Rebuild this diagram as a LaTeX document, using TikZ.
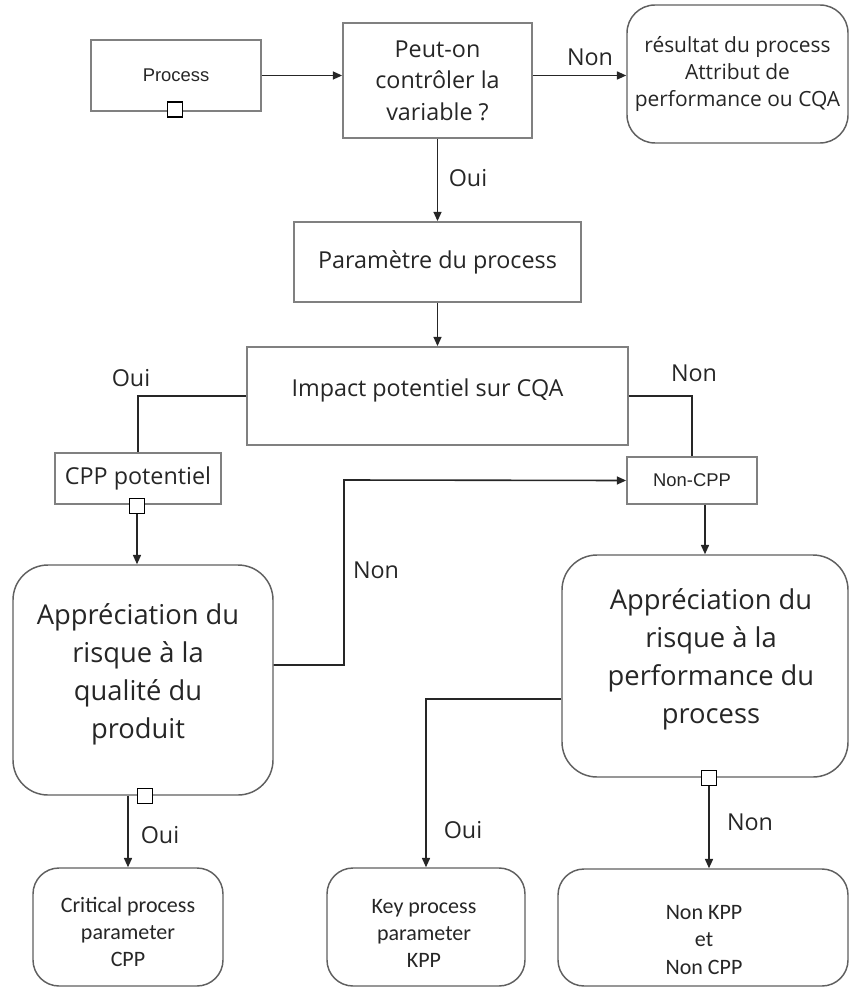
\documentclass[tikz,border=0pt]{standalone}
\usepackage{fontspec}
\setmainfont{Open Sans}
\newfontfamily\arialf{Liberation Sans}
\newfontfamily\calf{Carlito}
\usetikzlibrary{arrows.meta}
\definecolor{txt}{HTML}{262626}
\definecolor{edge}{HTML}{808080}
\definecolor{redge}{HTML}{606060}
\definecolor{wire}{HTML}{262626}
\begin{document}
\begin{tikzpicture}[x=0.75pt,y=-0.75pt,
  sz/.style 2 args={minimum width=#1*0.75pt, minimum height=#2*0.75pt},
  box/.style={draw=edge, line width=1.3pt, fill=white, inner sep=0pt,
    align=center, text=txt},
  rbox/.style={box, draw=redge, line width=1.1pt, rounded corners=#1*0.75pt},
  rbox/.default=26,
  inner/.style={text=txt, align=center, inner sep=0pt},
  mid/.style={font=\fontsize{17.5}{23.6}\selectfont},
  big/.style={font=\fontsize{20.5}{28.5}\selectfont},
  small/.style={font=\fontsize{15.7}{20.6}\selectfont},
  narrow/.style={font=\calf\fontsize{16.5}{20.3}\selectfont},
  plain/.style={font=\arialf\fontsize{13.8}{16}\selectfont},
  port/.style={draw=black, line width=0.9pt, fill=white, inner sep=0pt, sz={15}{15}},
  conn/.style={draw=wire, line width=1.2pt},
  arr/.style={conn, -{Triangle[length=7pt,width=6pt]}},
  lbl/.style={text=txt, inner sep=0pt, font=\fontsize{17.5}{20}\selectfont}
]
\useasboundingbox (0,0) rectangle (849,987);

% boxes
\node[box, plain, sz={170}{71}] (proc) at (176,75.5) {Process};
\node[box, mid, sz={189}{115}] (q) at (437.5,80.5) {Peut-on\\contrôler la\\variable ?};
\node[rbox=28, small, sz={221}{138}] (res) at (737.5,74) {résultat du process\\Attribut de\\performance ou CQA};
\node[box, mid, sz={287}{80}] (param) at (437.5,262) {Paramètre du process};
\node[box, sz={381}{98}] (impact) at (437.5,396) {};
\node[inner, mid] (impact-t) at (427.5,390) {Impact potentiel sur CQA};
\node[box, mid, sz={166}{51}] (cpp) at (138,478.5) {CPP potentiel};
\node[box, plain, sz={130}{47}] (ncpp) at (692,480.5) {Non-CPP};
\node[rbox=35, sz={260}{230}] (aq) at (143,680) {};
\node[inner, big] (aq-t) at (138,674) {Appréciation du\\risque à la\\qualité du\\produit};
\node[rbox=35, sz={286}{222}] (ap) at (705,666) {};
\node[inner, big] (ap-t) at (711,659) {Appréciation du\\risque à la\\performance du\\process};
\node[rbox, sz={190}{118}] (c1) at (128,927) {};
\node[inner, narrow] (c1-t) at (128,932) {Critical process\\parameter\\CPP};
\node[rbox, sz={198}{118}] (c2) at (426,927) {};
\node[inner, narrow] (c2-t) at (424,933) {Key process\\parameter\\KPP};
\node[rbox, sz={290}{117}] (c3) at (703,927.5) {};
\node[inner, narrow, font=\calf\fontsize{16.5}{20.8}\selectfont] (c3-t) at (704,940) {Non KPP\\et\\Non CPP};

% connectors
\coordinate (bend) at (344,480);
\draw[arr] (proc.east) -- (proc.east -| q.west);
\draw[arr] (q.east |- proc.east) -- (res.west |- proc.east);
\draw[arr] (q.south) -- (param.north);
\draw[arr] (param.south) -- (impact.north);
\draw[conn] (impact.west) -| (cpp.north);
\draw[conn] (impact.east) -| (ncpp.north);
\node[port] (sq1) at (137,506) {};
\draw[arr] (sq1.south) -- (sq1.south |- aq.north);
\draw[arr] ([yshift=11.25pt]aq.east) -| (bend) -- (ncpp.west);
\draw[arr] (ncpp.south -| ap.north) -- (ap.north);
\draw[arr] ([yshift=-24.75pt]ap.west) -| (c2.north);
\draw[arr] (c1.north |- aq.south) -- (c1.north);
\node[port] (sq3) at (709,778) {};
\draw[arr] (sq3.south) -- (sq3.south |- c3.north);

% ports on box edges
\node[port] (sq0) at (175,109.5) {};
\node[port] (sq2) at (145,796) {};

% branch labels
\node[lbl] (l-non1) at (590,57) {Non};
\node[lbl] (l-oui1) at (468,178) {Oui};
\node[lbl] (l-oui2) at (131,378) {Oui};
\node[lbl] (l-non2) at (694,373) {Non};
\node[lbl] (l-non3) at (376,570) {Non};
\node[lbl] (l-oui3) at (160,835) {Oui};
\node[lbl] (l-oui4) at (463,830) {Oui};
\node[lbl] (l-non4) at (750,822) {Non};
\end{tikzpicture}
\end{document}
